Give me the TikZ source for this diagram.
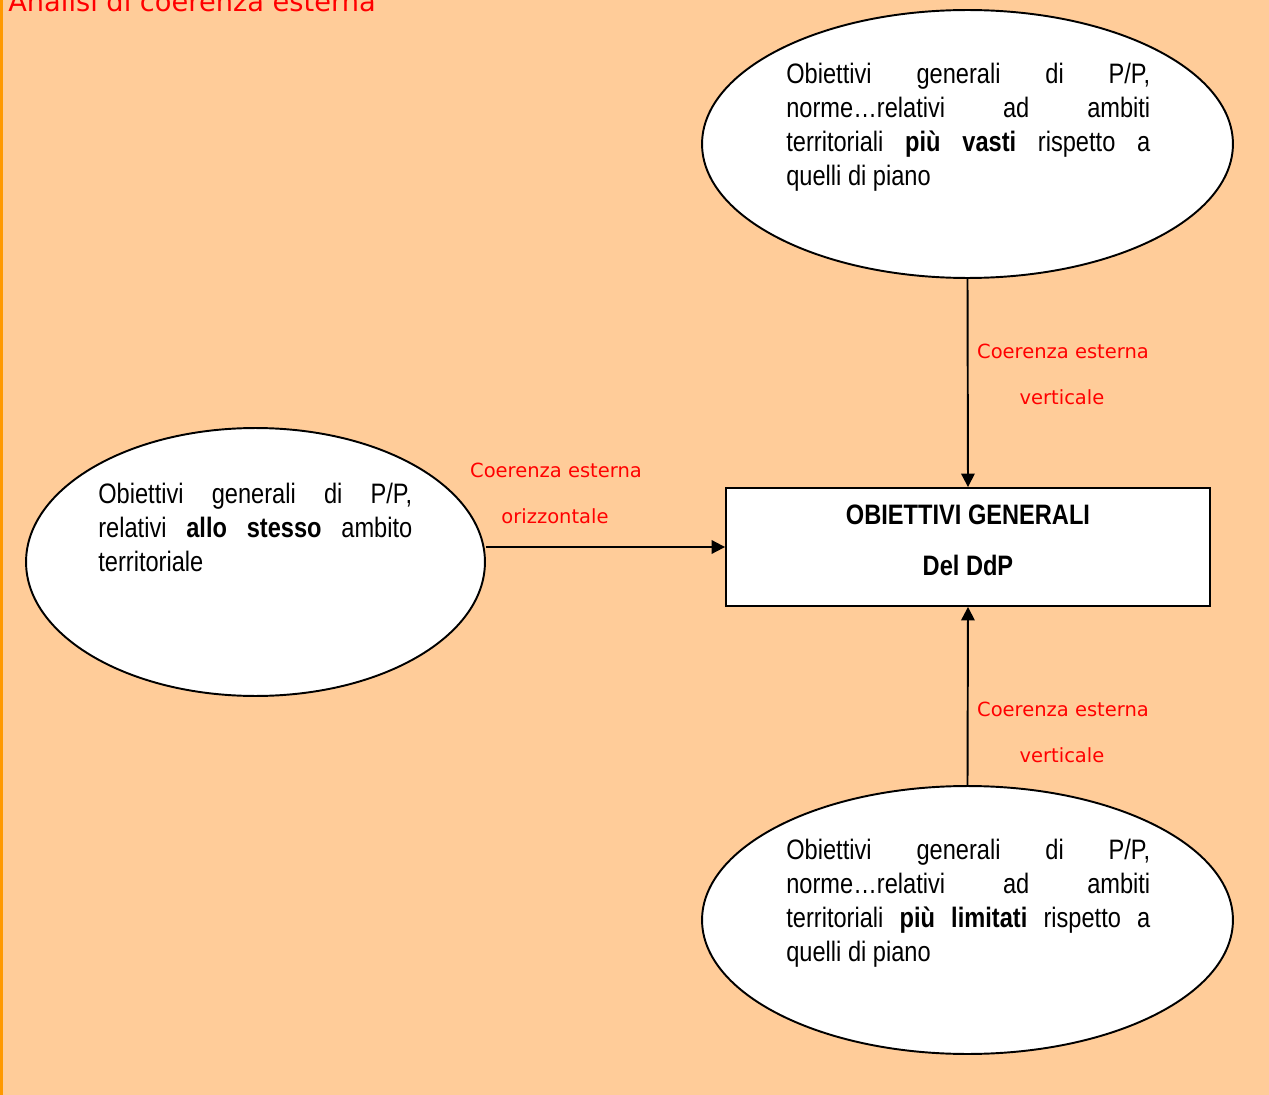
\documentclass[tikz,border=0pt]{standalone}
\usepackage{fontspec}
\setmainfont{Liberation Sans}[FakeStretch=0.84]
\newfontfamily\comicfont{DejaVu Sans}
\usetikzlibrary{shapes.geometric,arrows.meta}
\definecolor{peach}{HTML}{FFCC99}
\definecolor{edgeorange}{HTML}{FF9900}
\definecolor{labred}{HTML}{FF0000}
\tikzset{
  ell/.style={ellipse, draw=black, fill=white, line width=1.1pt, inner sep=0pt},
  goalbox/.style={rectangle, draw=black, fill=white, line width=1.1pt, inner sep=0pt},
  arr/.style={line width=1.1pt, -{Triangle[length=0.27cm,width=0.27cm]}},
  txt/.style={inner sep=0pt, align=left, font=\fontsize{16pt}{19.3pt}\selectfont},
  boxtxt/.style={inner sep=0pt, font=\fontsize{16pt}{19.3pt}\selectfont\bfseries},
  redlab/.style={inner sep=0pt, text=labred, font=\comicfont\fontsize{11.1pt}{13pt}\selectfont},
  titlelab/.style={inner sep=0pt, text=labred, font=\comicfont\fontsize{15.5pt}{18pt}\selectfont}
}
\begin{document}
\begin{tikzpicture}[x=0.02cm,y=-0.02cm]
\useasboundingbox (0,0) rectangle (1269,1095);
\fill[peach] (0,0) rectangle (1269,1095);
\fill[edgeorange] (0,0) rectangle (3,1095);
\node[titlelab, anchor=base west] (title) at (8,12) {Analisi di coerenza esterna};

\node[ell, minimum width=10.62cm, minimum height=5.36cm] (top) at (967.5,144) {};
\node[ell, minimum width=9.18cm, minimum height=5.36cm] (left) at (255.5,562) {};
\node[ell, minimum width=10.62cm, minimum height=5.36cm] (bot) at (967.5,920) {};
\node[goalbox, minimum width=9.68cm, minimum height=2.36cm] (goal) at (968,547) {};

\node[txt, anchor=north west] (toptext) at (786,63) {%
\makebox[7.28cm][s]{Obiettivi generali di P/P,}\\
\makebox[7.28cm][s]{norme…relativi ad ambiti}\\
\makebox[7.28cm][s]{territoriali \textbf{più vasti} rispetto a}\\
quelli di piano};

\node[txt, anchor=north west] (lefttext) at (98,483) {%
\makebox[6.28cm][s]{Obiettivi generali di P/P,}\\
\makebox[6.28cm][s]{relativi \textbf{allo stesso} ambito}\\
territoriale};

\node[txt, anchor=north west] (bottext) at (786,839) {%
\makebox[7.28cm][s]{Obiettivi generali di P/P,}\\
\makebox[7.28cm][s]{norme…relativi ad ambiti}\\
\makebox[7.28cm][s]{territoriali \textbf{più limitati} rispetto a}\\
quelli di piano};

\node[boxtxt, anchor=base] (goal1) at (968,524) {OBIETTIVI GENERALI};
\node[boxtxt, anchor=base] (goal2) at (968,575) {Del DdP};

\draw[arr] (top.south) -- (goal.north);
\draw[arr] (bot.north) -- (goal.south);
\draw[arr] (left.east |- goal.west) -- (goal.west);

\node[redlab, anchor=base] (v1a) at (1063,358) {Coerenza esterna};
\node[redlab, anchor=base] (v1b) at (1062,404) {verticale};
\node[redlab, anchor=base] (v2a) at (1063,716) {Coerenza esterna};
\node[redlab, anchor=base] (v2b) at (1062,762) {verticale};
\node[redlab, anchor=base] (h1a) at (556,477) {Coerenza esterna};
\node[redlab, anchor=base] (h1b) at (555,523) {orizzontale};
\end{tikzpicture}
\end{document}
